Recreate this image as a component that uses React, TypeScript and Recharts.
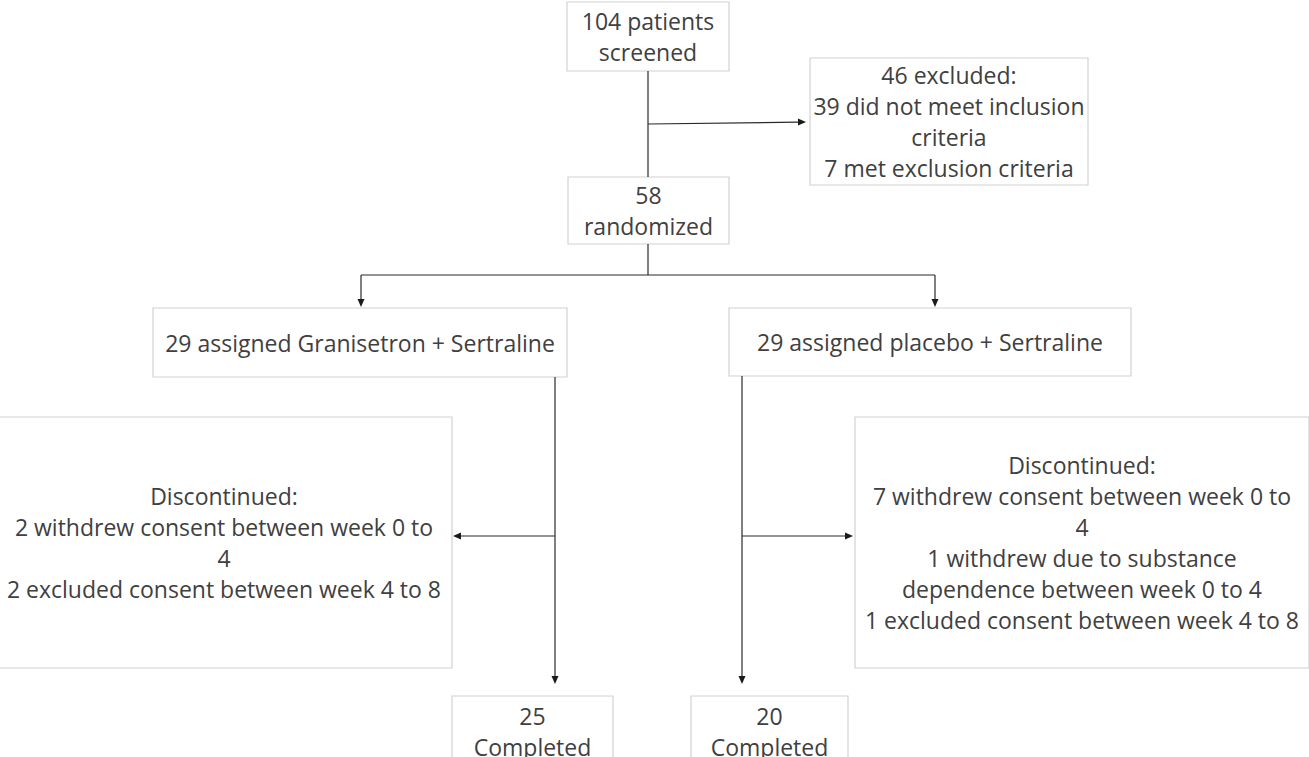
import { ReferenceArea, ReferenceLine, Scatter, ScatterChart, XAxis, YAxis } from "recharts";

// counts
const screened = [104];
const excluded = [46, 39, 7]; // total, did not meet inclusion, met exclusion
const randomized = [58];
const arms = ["Granisetron", "placebo"];
const assigned = [29, 29];
const discontinued = [
  [2, 2],
  [7, 1, 1],
];
const completed = [25, 20];

const boxText = [
  [`${screened[0]} patients`, "screened"],
  [`${excluded[0]} excluded:`, `${excluded[1]} did not meet inclusion`, "criteria", `${excluded[2]} met exclusion criteria`],
  [`${randomized[0]}`, "randomized"],
  [`${assigned[0]} assigned ${arms[0]} + Sertraline`],
  [`${assigned[1]} assigned ${arms[1]} + Sertraline`],
  ["Discontinued:", `${discontinued[0][0]} withdrew consent between week 0 to`, "4", `${discontinued[0][1]} excluded consent between week 4 to 8`],
  [
    "Discontinued:",
    `${discontinued[1][0]} withdrew consent between week 0 to`,
    "4",
    `${discontinued[1][1]} withdrew due to substance`,
    "dependence between week 0 to 4",
    `${discontinued[1][2]} excluded consent between week 4 to 8`,
  ],
  [`${completed[0]}`, "Completed"],
  [`${completed[1]}`, "Completed"],
];

// box layout in picture units: [x1, x2, y1, y2]
const boxes = [
  [567, 729, 2, 71],
  [810, 1088, 58, 185],
  [568, 729, 177, 244],
  [153, 567, 308, 377],
  [729, 1131, 308, 376],
  [-4, 452, 417, 668],
  [855, 1309, 417, 668],
  [452, 613, 696, 766],
  [691, 848, 696, 766],
];

// connectors: [x1, y1, x2, y2, arrowhead]
const links = [
  [648, 71, 648, 177, 0],
  [648, 124, 806, 122, 1],
  [648, 244, 648, 275, 0],
  [361, 275, 935, 275, 0],
  [361, 275, 361, 307, 1],
  [935, 275, 935, 307, 1],
  [555, 377, 555, 684, 1],
  [555, 536, 453, 536, 1],
  [742, 376, 742, 684, 1],
  [742, 536, 853, 536, 1],
];

const W = 1309;
const H = 757;
const FONT = "'Open Sans', sans-serif";
const LINE_H = 31;

const labelPoints = boxes.map((b, i) => ({ x: (b[0] + b[1]) / 2, y: (b[2] + b[3]) / 2, lines: boxText[i] }));

const BoxText = (props: any) => {
  const { cx, cy, payload } = props;
  const lines: string[] = payload.lines;
  return (
    <g>
      {lines.map((t, i) => (
        <text
          key={i}
          x={cx}
          y={cy + (i - (lines.length - 1) / 2) * LINE_H}
          textAnchor="middle"
          dominantBaseline="central"
          fontFamily={FONT}
          fontSize={23}
          fill="#404040"
        >
          {t}
        </text>
      ))}
    </g>
  );
};

const Connector = (props: any, head: boolean) => {
  const { x1, y1, x2, y2 } = props;
  const dx = x2 - x1;
  const dy = y2 - y1;
  const len = Math.sqrt(dx * dx + dy * dy) || 1;
  const ux = dx / len;
  const uy = dy / len;
  const hl = 8;
  const hw = 3.5;
  const bx = x2 - ux * hl;
  const by = y2 - uy * hl;
  return (
    <g>
      <line x1={x1} y1={y1} x2={head ? bx : x2} y2={head ? by : y2} stroke="#2a2a2a" strokeWidth={1.2} />
      {head && (
        <polygon
          points={`${x2},${y2} ${bx - uy * hw},${by + ux * hw} ${bx + uy * hw},${by - ux * hw}`}
          fill="#1a1a1a"
        />
      )}
    </g>
  );
};

export default function App() {
  return (
    <div style={{ position: "absolute", left: 0, top: 0, background: "#fff" }}>
      <ScatterChart width={W} height={H} margin={{ top: 0, right: 0, bottom: 0, left: 0 }}>
        <XAxis type="number" dataKey="x" domain={[0, W]} hide />
        <YAxis type="number" dataKey="y" domain={[0, H]} reversed hide />
        {boxes.map((b, i) => (
          <ReferenceArea
            key={`box-${i}`}
            x1={b[0]}
            x2={b[1]}
            y1={b[2]}
            y2={b[3]}
            ifOverflow="visible"
            fill="#ffffff"
            fillOpacity={1}
            stroke="#d2d2d2"
            strokeWidth={1.2}
          />
        ))}
        {links.map((l, i) => (
          <ReferenceLine
            key={`link-${i}`}
            segment={[
              { x: l[0], y: l[1] },
              { x: l[2], y: l[3] },
            ]}
            ifOverflow="visible"
            shape={(p: any) => Connector(p, l[4] === 1)}
          />
        ))}
        <Scatter data={labelPoints} shape={BoxText} isAnimationActive={false} />
      </ScatterChart>
    </div>
  );
}
